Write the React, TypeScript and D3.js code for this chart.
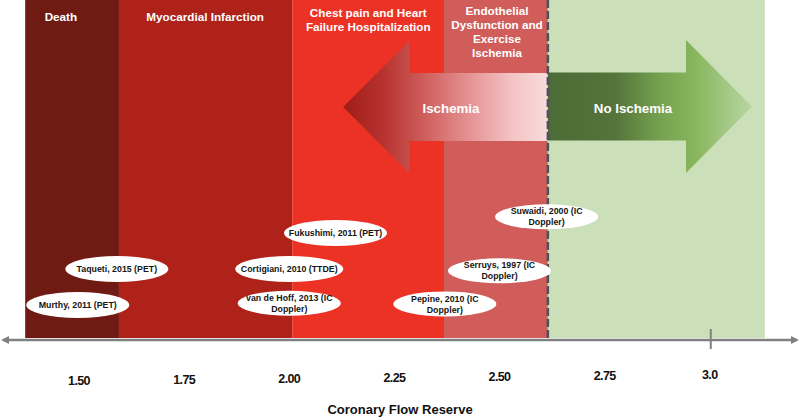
import React from "react";
import * as d3 from "d3";

// ---- data ----
const bandNames = [
  ["Death"],
  ["Myocardial Infarction"],
  ["Chest pain and Heart", "Failure Hospitalization"],
  ["Endothelial", "Dysfunction and", "Exercise", "Ischemia"],
  [],
];
const bandStarts = [1.372, 1.595, 2.007, 2.368, 2.615];
const bandEnds = [1.595, 2.007, 2.368, 2.615, 3.131];
const bandLabelAt = [1.457, 1.8, 2.188, 2.494, 2.87];
const bandColors = ["#6f1a13", "#ae221a", "#ec3224", "#d05d5a", "#cbdfb8"];

const thresholdCfr = 2.615;

const studyLabels = [
  ["Murthy, 2011 (PET)"],
  ["Taqueti, 2015 (PET)"],
  ["Cortigiani, 2010 (TTDE)"],
  ["van de Hoff, 2013 (IC", "Doppler)"],
  ["Fukushimi, 2011 (PET)"],
  ["Pepine, 2010 (IC", "Doppler)"],
  ["Serruys, 1997 (IC", "Doppler)"],
  ["Suwaidi, 2000 (IC", "Doppler)"],
];
const studyCfr = [1.497, 1.59, 2.0, 2.0, 2.11, 2.37, 2.5, 2.612];
const studyLane = [0, 1, 1, 0.05, 2, 0.03, 0.95, 2.45];

const tickValues = [1.5, 1.75, 2.0, 2.25, 2.5, 2.75, 3.0];
const tickLabels = ["1.50", "1.75", "2.00", "2.25", "2.50", "2.75", "3.0"];
const markedTick = 3.0;

// arrows: [tail, headBase, tip]
const ischemiaArrow = [2.615, 2.285, 2.128];
const noIschemiaArrow = [2.615, 2.9435, 3.1005];
const axisTitle = "Coronary Flow Reserve";

// ---- layout ----
const W = 800;
const H = 417;
const axisY = 340;
const bandTop = 0;
const bandBottom = 338;

export default function App() {
  const x = d3.scaleLinear().domain([1.5, 3.0]).range([79, 709.75]);
  const lane = d3.scaleLinear().domain([0, 1]).range([305, 269]);
  const font = "'Liberation Sans', Arial, Helvetica, sans-serif";

  const arrowPath = (a: number[], yc: number, shaftHalf: number, headHalf: number) => {
    const [t, b, tip] = a.map((v) => x(v));
    const p = d3.path();
    p.moveTo(t, yc - shaftHalf);
    p.lineTo(b, yc - shaftHalf);
    p.lineTo(b, yc - headHalf);
    p.lineTo(tip, yc);
    p.lineTo(b, yc + headHalf);
    p.lineTo(b, yc + shaftHalf);
    p.lineTo(t, yc + shaftHalf);
    p.closePath();
    return p.toString();
  };

  const tickY = (i: number) => 381 - i * 1.05;

  return (
    <svg
      width={W}
      height={H}
      style={{ position: "absolute", left: 0, top: 0, background: "#fff" }}
      fontFamily={font}
    >
      <defs>
        <linearGradient id="gIsch" gradientUnits="userSpaceOnUse" x1={x(ischemiaArrow[2])} x2={x(ischemiaArrow[0])} y1={0} y2={0}>
          <stop offset="0" stopColor="#9e1c16" />
          <stop offset="0.2" stopColor="#b83330" />
          <stop offset="0.4" stopColor="#cf5f5d" />
          <stop offset="0.62" stopColor="#e59394" />
          <stop offset="0.82" stopColor="#f4c2c3" />
          <stop offset="1" stopColor="#f9dcdc" />
        </linearGradient>
        <linearGradient id="gNo" gradientUnits="userSpaceOnUse" x1={x(noIschemiaArrow[0])} x2={x(noIschemiaArrow[2])} y1={0} y2={0}>
          <stop offset="0" stopColor="#4c6b36" />
          <stop offset="0.33" stopColor="#54743b" />
          <stop offset="0.55" stopColor="#75a24f" />
          <stop offset="0.72" stopColor="#88b65e" />
          <stop offset="1" stopColor="#b9d6a2" />
        </linearGradient>
      </defs>

      {/* bands */}
      {bandStarts.map((s, i) => (
        <rect key={"b" + i} x={x(s)} y={bandTop} width={x(bandEnds[i]) - x(s)} height={bandBottom - bandTop} fill={bandColors[i]} />
      ))}

      {/* band headers */}
      {bandNames.map((lines, i) =>
        lines.map((ln, j) => {
          const ys = lines.length === 1 ? [17] : lines.length === 2 ? [12.5, 27] : [10.5, 25, 39, 52.5];
          return (
            <text key={"h" + i + "_" + j} x={x(bandLabelAt[i])} y={ys[j]} dy="0.35em" textAnchor="middle" fill="#fff" fontWeight="bold" fontSize={11.7}>
              {ln}
            </text>
          );
        })
      )}

      {/* arrows */}
      <path d={arrowPath(ischemiaArrow, 107, 34, 66)} fill="url(#gIsch)" />
      <path d={arrowPath(noIschemiaArrow, 106.5, 34, 66.5)} fill="url(#gNo)" />
      <text x={451} y={108} dy="0.35em" textAnchor="middle" fill="#fff" fontWeight="bold" fontSize={13.3}>Ischemia</text>
      <text x={633} y={108} dy="0.35em" textAnchor="middle" fill="#fff" fontWeight="bold" fontSize={13.3}>No Ischemia</text>

      {/* threshold dashed line */}
      <line x1={x(thresholdCfr)} x2={x(thresholdCfr)} y1={0} y2={axisY} stroke="#4f5058" strokeWidth={2.5} strokeDasharray="8,3" />

      {/* studies */}
      {studyLabels.map((lines, i) => {
        const cx = x(studyCfr[i]);
        const cy = lane(studyLane[i]);
        const rx = lines[0].length > 21 ? 54 : 51.5;
        return (
          <g key={"s" + i}>
            <ellipse cx={cx} cy={cy} rx={rx} ry={lines.length > 1 ? 12.5 : 13} fill="#fff" />
            {lines.map((ln, j) => (
              <text key={j} x={cx} y={cy + (lines.length === 1 ? 0 : j === 0 ? -5.5 : 5.5)} dy="0.35em" textAnchor="middle" fill="#151515" fontWeight="bold" fontSize={8.8}>
                {ln}
              </text>
            ))}
          </g>
        );
      })}

      {/* axis */}
      <line x1={4} x2={796} y1={axisY} y2={axisY} stroke="#808080" strokeWidth={2.5} />
      <path d={`M1,${axisY} L9,${axisY - 4} L9,${axisY + 4} Z`} fill="#808080" />
      <path d={`M799,${axisY} L791,${axisY - 4} L791,${axisY + 4} Z`} fill="#808080" />
      <line x1={x(markedTick) + 1} x2={x(markedTick) + 1} y1={329} y2={349} stroke="#808080" strokeWidth={2} />

      {tickValues.map((v, i) => (
        <text key={"t" + i} x={x(v)} y={tickY(i)} dy="0.35em" textAnchor="middle" fill="#111" fontWeight="bold" fontSize={12.5} letterSpacing={-0.6}>
          {tickLabels[i]}
        </text>
      ))}

      <text x={400} y={409} dy="0.35em" textAnchor="middle" fill="#111" fontWeight="bold" fontSize={13}>
        {axisTitle}
      </text>
    </svg>
  );
}
